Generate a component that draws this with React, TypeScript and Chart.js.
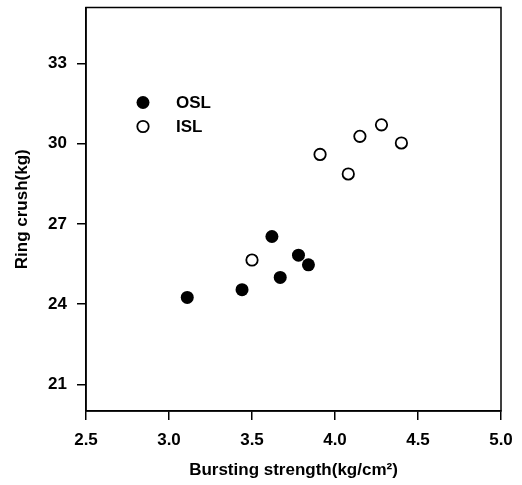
import React, { useEffect, useRef } from "react";
import { Chart, registerables } from "chart.js";

Chart.register(...registerables);

const oslX = [3.11, 3.44, 3.62, 3.67, 3.78, 3.84];
const oslY = [24.25, 24.54, 26.53, 25.0, 25.83, 25.47];
const islX = [3.5, 3.91, 4.08, 4.15, 4.28, 4.4];
const islY = [25.65, 29.6, 28.87, 30.28, 30.71, 30.03];
const xTicks = [2.5, 3.0, 3.5, 4.0, 4.5, 5.0];
const yTicks = [21, 24, 27, 30, 33];
const seriesNames = ["OSL", "ISL"];

const FONT = "'Liberation Sans', Arial, sans-serif";

export default function App() {
  const ref = useRef<HTMLCanvasElement | null>(null);
  useEffect(() => {
    if (!ref.current) return;
    const framePlugin = {
      id: "frame",
      afterDatasetsDraw(chart: any) {
        const { ctx, chartArea } = chart;
        ctx.save();
        ctx.strokeStyle = "#000";
        ctx.lineWidth = 1.5;
        ctx.strokeRect(chartArea.left, chartArea.top, chartArea.right - chartArea.left, chartArea.bottom - chartArea.top);
        // legend
        const lx = chartArea.left + 57;
        const rows = [chartArea.top + 95, chartArea.top + 119];
        rows.forEach((yy, i) => {
          ctx.beginPath();
          ctx.arc(lx, yy, i === 0 ? 6.5 : 5.7, 0, Math.PI * 2);
          if (i === 0) {
            ctx.fillStyle = "#000";
            ctx.fill();
          } else {
            ctx.lineWidth = 1.8;
            ctx.strokeStyle = "#000";
            ctx.stroke();
          }
          ctx.fillStyle = "#000";
          ctx.font = `bold 17px ${FONT}`;
          ctx.textBaseline = "middle";
          ctx.textAlign = "left";
          ctx.fillText(seriesNames[i], lx + 33, yy + 1);
        });
        ctx.restore();
      },
    };
    const chart = new Chart(ref.current, {
      type: "scatter",
      data: {
        datasets: [
          {
            label: seriesNames[0],
            data: oslX.map((x, i) => ({ x, y: oslY[i] })),
            pointRadius: 6.5,
            pointBackgroundColor: "#000",
            pointBorderColor: "#000",
            pointBorderWidth: 0,
          },
          {
            label: seriesNames[1],
            data: islX.map((x, i) => ({ x, y: islY[i] })),
            pointRadius: 5.7,
            pointBackgroundColor: "#fff",
            pointBorderColor: "#000",
            pointBorderWidth: 1.8,
          },
        ],
      },
      options: {
        animation: false,
        responsive: false,
        maintainAspectRatio: false,
        layout: { padding: { left: 0, right: 21, top: 5, bottom: 0 } },
        plugins: { legend: { display: false }, tooltip: { enabled: false } },
        scales: {
          x: {
            type: "linear",
            min: 2.5,
            max: 5.0,
            afterBuildTicks: (s: any) => {
              s.ticks = xTicks.map((v) => ({ value: v }));
            },
            afterFit: (s: any) => {
              s.height = 74;
              s.paddingLeft = 0;
              s.paddingRight = 0;
              s.paddingTop = 0;
              s.paddingBottom = 0;
            },
            grid: { drawOnChartArea: false, drawTicks: true, tickLength: 9, color: "#000", lineWidth: 1.5 },
            border: { display: true, color: "#000", width: 1.5 },
            ticks: {
              color: "#000",
              font: { family: FONT, size: 17, weight: "bold" },
              padding: 10,
              maxRotation: 0,
              callback: (v: any) => Number(v).toFixed(1),
            },
            title: {
              display: true,
              text: "Bursting strength(kg/cm²)",
              color: "#000",
              font: { family: FONT, size: 17, weight: "bold" },
              padding: { top: 4, bottom: 4 },
            },
          },
          y: {
            type: "linear",
            min: 20,
            max: 35.1,
            afterBuildTicks: (s: any) => {
              s.ticks = yTicks.map((v) => ({ value: v }));
            },
            afterFit: (s: any) => {
              s.width = 86;
              s.paddingLeft = 0;
              s.paddingRight = 0;
              s.paddingTop = 0;
              s.paddingBottom = 0;
            },
            grid: { drawOnChartArea: false, drawTicks: true, tickLength: 9, color: "#000", lineWidth: 1.5 },
            border: { display: true, color: "#000", width: 1.5 },
            ticks: {
              color: "#000",
              font: { family: FONT, size: 17, weight: "bold" },
              padding: 10,
            },
            title: {
              display: true,
              text: "Ring crush(kg)",
              color: "#000",
              font: { family: FONT, size: 17, weight: "bold" },
              padding: { top: 12, bottom: 4 },
            },
          },
        },
      },
      plugins: [framePlugin],
    } as any);
    return () => chart.destroy();
  }, []);
  return (
    <div style={{ position: "fixed", left: 0, top: 0, width: 522, height: 485, background: "#fff" }}>
      <canvas ref={ref} width={522} height={485} style={{ width: 522, height: 485 }} />
    </div>
  );
}
